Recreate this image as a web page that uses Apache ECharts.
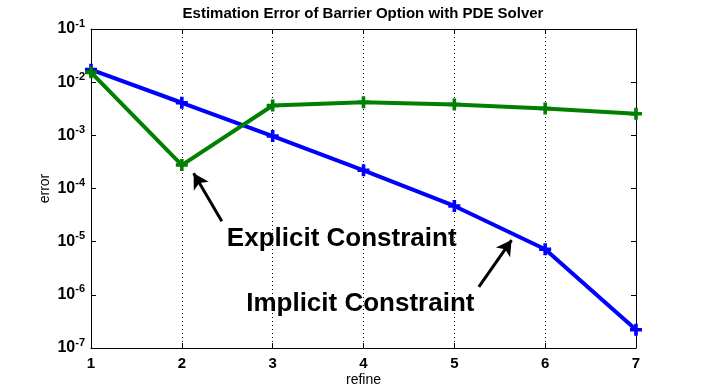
<!DOCTYPE html>
<html><head><meta charset="utf-8">
<script src="https://cdn.jsdelivr.net/npm/echarts@6/dist/echarts.min.js"></script>
<style>html,body{margin:0;padding:0;background:#fff}#c{width:703px;height:392px}</style>
</head><body><div id="c"></div>
<script>
const refine = [1, 2, 3, 4, 5, 6, 7];
const implicitErr = [0.0172, 0.0041, 0.00097, 0.00022, 0.000047, 0.0000072, 0.00000022];
const explicitErr = [0.0153, 0.000276, 0.00364, 0.0042, 0.0038, 0.0032, 0.00254];
const xTicks = [1, 2, 3, 4, 5, 6, 7];
const yExponents = [-7, -6, -5, -4, -3, -2, -1];
const titleText = 'Estimation Error of Barrier Option with PDE Solver';
const annotations = [
  {text: 'Explicit Constraint', at: [3.76, 1.11e-5], from: [2.44, 2.43e-5], to: [2.13, 1.93e-4]},
  {text: 'Implicit Constraint', at: [3.965, 6.73e-7], from: [5.27, 1.41e-6], to: [5.63, 1.07e-5]}
];

const FONT = '"Liberation Sans", Arial, sans-serif';
const plus = 'path://M3.5,0h3v3.5h3.5v3h-3.5v3.5h-3v-3.5h-3.5v-3h3.5z';
const chart = echarts.init(document.getElementById('c'));
const axisLine = {show: true, lineStyle: {color: '#000', width: 1}};
chart.setOption({
  animation: false,
  backgroundColor: '#fff',
  title: {text: titleText, left: 358, textAlign: 'center', top: 1,
    textStyle: {fontFamily: FONT, fontSize: 15, fontWeight: 'bold', color: '#000'}},
  grid: {left: 91, right: 67, top: 29, bottom: 43},
  xAxis: [{
    type: 'value', min: xTicks[0], max: xTicks[xTicks.length - 1], interval: 1,
    name: 'refine', nameLocation: 'middle', nameGap: 25, nameMoveOverlap: false,
    nameTextStyle: {fontFamily: FONT, fontSize: 14, color: '#000'},
    axisLine: axisLine, axisTick: {inside: true, length: 5, lineStyle: {color: '#000'}},
    axisLabel: {fontFamily: FONT, fontSize: 15, fontWeight: 'bold', color: '#000', margin: 8},
    splitLine: {show: true, lineStyle: {type: [1, 3], color: '#000', width: 1}}
  }, {
    type: 'value', position: 'top', min: xTicks[0], max: xTicks[xTicks.length - 1], interval: 1,
    axisLine: axisLine, axisTick: {inside: true, length: 5, lineStyle: {color: '#000'}},
    axisLabel: {show: false}, splitLine: {show: false}
  }],
  yAxis: [{
    type: 'log', logBase: 10, min: Math.pow(10, yExponents[0]), max: Math.pow(10, yExponents[yExponents.length - 1]),
    name: 'error', nameLocation: 'middle', nameGap: 39, nameRotate: 90, nameMoveOverlap: false,
    nameTextStyle: {fontFamily: FONT, fontSize: 14, color: '#000'},
    axisLine: axisLine, axisTick: {inside: true, length: 5, lineStyle: {color: '#000'}},
    minorTick: {show: false}, splitLine: {show: false},
    axisLabel: {
      margin: 6,
      formatter: v => '{b|10}{s|' + Math.round(Math.log10(v)) + '}',
      rich: {
        b: {fontFamily: FONT, fontSize: 16, fontWeight: 'bold', color: '#000'},
        s: {fontFamily: FONT, fontSize: 11, fontWeight: 'bold', color: '#000', verticalAlign: 'bottom', padding: [0, 0, 11, 0]}
      }
    }
  }, {
    type: 'log', logBase: 10, position: 'right', min: Math.pow(10, yExponents[0]), max: Math.pow(10, yExponents[yExponents.length - 1]),
    axisLine: axisLine, axisTick: {inside: true, length: 5, lineStyle: {color: '#000'}},
    axisLabel: {show: false}, splitLine: {show: false}
  }],
  series: [{
    type: 'line', name: 'Implicit', data: refine.map((x, i) => [x, implicitErr[i]]),
    lineStyle: {color: '#0000ff', width: 4}, itemStyle: {color: '#0000ff'},
    symbol: plus, symbolSize: 12, showAllSymbol: true, z: 3
  }, {
    type: 'line', name: 'Explicit', data: refine.map((x, i) => [x, explicitErr[i]]),
    lineStyle: {color: '#008000', width: 4}, itemStyle: {color: '#008000'},
    symbol: plus, symbolSize: 12, showAllSymbol: true, z: 4
  }, {
    type: 'scatter', name: 'annot', symbolSize: 0, z: 5,
    itemStyle: {opacity: 1},
    data: annotations.map(a => ({value: a.at, label: {formatter: a.text}})),
    label: {show: true, position: 'inside', fontFamily: FONT, fontSize: 26, fontWeight: 'bold', color: '#000'},
    markLine: {
      silent: true, symbol: ['none', 'arrow'], symbolSize: [13, 15],
      lineStyle: {color: '#000', width: 3, type: 'solid'}, label: {show: false},
      data: annotations.map(a => [{coord: a.from}, {coord: a.to}])
    }
  }]
});
</script></body></html>
